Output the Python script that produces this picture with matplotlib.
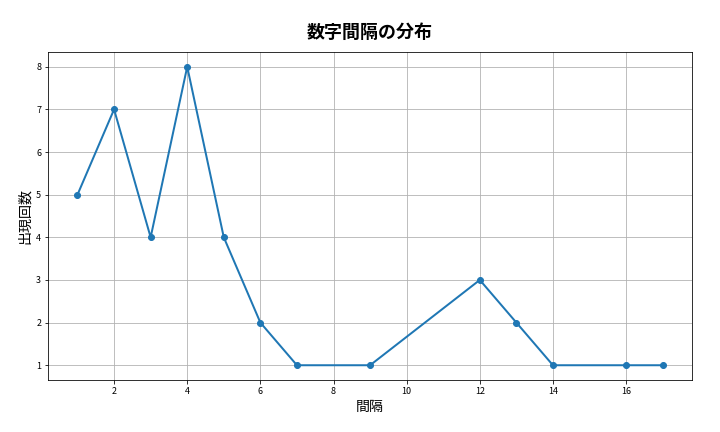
import matplotlib
matplotlib.use("Agg")
import matplotlib.pyplot as plt

plt.rcParams['font.family'] = ['Noto Sans CJK JP', 'DejaVu Sans']

intervals = [1, 2, 3, 4, 5, 6, 7, 9, 12, 13, 14, 16, 17]
counts = [5, 7, 4, 8, 4, 2, 1, 1, 3, 2, 1, 1, 1]

fig, ax = plt.subplots(figsize=(10, 6), dpi=72)
ax.plot(intervals, counts, marker="o", color="#1f77b4", linewidth=2, markersize=6)
ax.set_title("数字間隔の分布", fontsize=18, fontweight="bold", pad=14)
ax.set_xlabel("間隔", fontsize=14)
ax.set_ylabel("出現回数", fontsize=14)
ax.tick_params(labelsize=9)
ax.grid(True, color="#b0b0b0", linewidth=0.8)
fig.subplots_adjust(left=0.067, right=0.961, top=0.88, bottom=0.12)
fig.savefig("out.png", dpi=72)
